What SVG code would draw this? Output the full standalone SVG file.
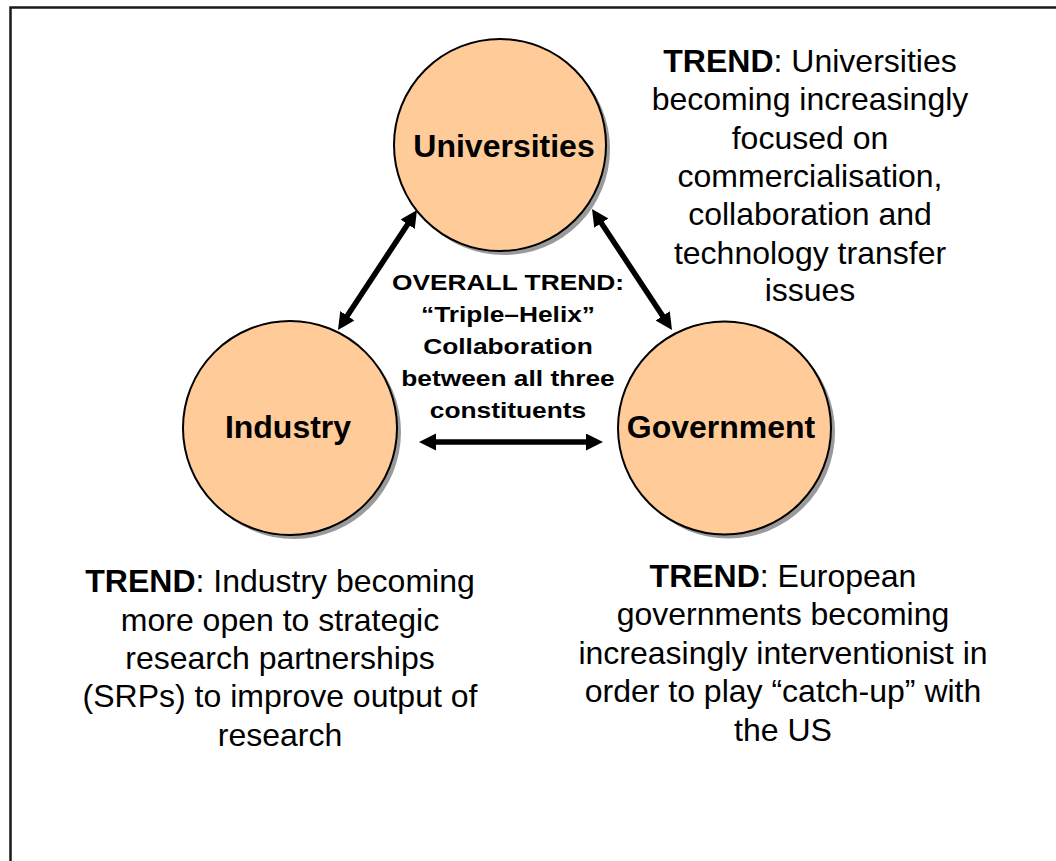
<svg xmlns="http://www.w3.org/2000/svg" width="1056" height="861" viewBox="0 0 1056 861">
<style>
text{font-family:"Liberation Sans",Arial,sans-serif;fill:#000}
.node{fill:#FFCC99;stroke:#000;stroke-width:2}
.shadow{fill:#9a9a9a}
.lbl{font-size:32px;font-weight:bold;text-anchor:middle}
.trend{font-size:32px;text-anchor:middle}
.center{font-size:22.5px;font-weight:bold;text-anchor:middle}
.conn{stroke:#000;stroke-width:5.5;fill:none;marker-start:url(#ah);marker-end:url(#ah)}
</style>
<defs>
<marker id="ah" markerUnits="userSpaceOnUse" markerWidth="18" markerHeight="18" refX="7" refY="8.5" orient="auto-start-reverse" viewBox="0 0 18 18">
<path d="M0,0 L17,8.5 L0,17 z" fill="#000"/>
</marker>
</defs>
<rect x="0" y="0" width="1056" height="861" fill="#fff"/>
<rect id="frame" x="10.5" y="7.5" width="1100" height="900" fill="none" stroke="#1a1a1a" stroke-width="2.5"/>

<g id="universities">
<circle class="shadow" cx="504" cy="149" r="106"/>
<circle class="node" cx="500" cy="145" r="106"/>
<text class="lbl" x="504" y="157">Universities</text>
</g>
<g id="industry">
<circle class="shadow" cx="294" cy="432" r="107"/>
<circle class="node" cx="290" cy="428" r="107"/>
<text class="lbl" x="288" y="438">Industry</text>
</g>
<g id="government">
<circle class="shadow" cx="728.5" cy="432" r="106.5"/>
<circle class="node" cx="724.5" cy="428" r="106.5"/>
<text class="lbl" x="721" y="438">Government</text>
</g>

<g id="connectors">
<line class="conn" x1="343.5" y1="321.6" x2="411.5" y2="218.4"/>
<line class="conn" x1="597.5" y1="217.3" x2="666.5" y2="321.7"/>
<line class="conn" x1="429" y1="442" x2="593" y2="442"/>
</g>

<g id="overall" transform="translate(508,0) scale(1.17,1)">
<text class="center" x="0" y="290.5">OVERALL TREND:</text>
<text class="center" x="0" y="322.5">“Triple–Helix”</text>
<text class="center" x="0" y="354.5">Collaboration</text>
<text class="center" x="0" y="386.5">between all three</text>
<text class="center" x="0" y="418.5">constituents</text>
</g>

<g id="trend-universities">
<text class="trend" x="810" y="72"><tspan font-weight="bold">TREND</tspan>: Universities</text>
<text class="trend" x="810" y="110">becoming increasingly</text>
<text class="trend" x="810" y="148.5">focused on</text>
<text class="trend" x="810" y="187">commercialisation,</text>
<text class="trend" x="810" y="225">collaboration and</text>
<text class="trend" x="810" y="263.5">technology transfer</text>
<text class="trend" x="810" y="301">issues</text>
</g>

<g id="trend-industry">
<text class="trend" x="280" y="592"><tspan font-weight="bold">TREND</tspan>: Industry becoming</text>
<text class="trend" x="280" y="630.5">more open to strategic</text>
<text class="trend" x="280" y="669">research partnerships</text>
<text class="trend" x="280" y="707">(SRPs) to improve output of</text>
<text class="trend" x="280" y="745.5">research</text>
</g>

<g id="trend-government">
<text class="trend" x="783" y="586.5"><tspan font-weight="bold">TREND</tspan>: European</text>
<text class="trend" x="783" y="625">governments becoming</text>
<text class="trend" x="783" y="663.5">increasingly interventionist in</text>
<text class="trend" x="783" y="702">order to play “catch-up” with</text>
<text class="trend" x="783" y="740.5">the US</text>
</g>
</svg>
